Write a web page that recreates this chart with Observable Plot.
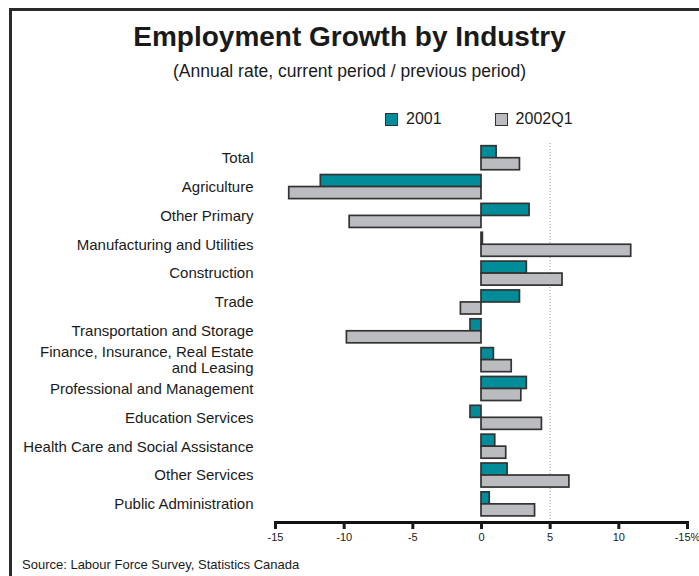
<!DOCTYPE html>
<html>
<head>
<meta charset="utf-8">
<script src="https://cdn.jsdelivr.net/npm/d3@7"></script>
<script src="https://cdn.jsdelivr.net/npm/@observablehq/plot@0.6"></script>
<style>
  html, body { margin: 0; padding: 0; background: #fff; }
  #wrap { position: relative; width: 699px; height: 576px; overflow: hidden; font-family: "Liberation Sans", Arial, sans-serif; color: #1a1a1a; background: #fff; }
  #frame { position: absolute; left: 9px; top: 8px; width: 720px; height: 600px; border-left: 3px solid #2a2a2a; border-top: 3px solid #2a2a2a; }
  #title { position: absolute; left: 0; width: 699px; top: 21px; text-align: center; font-weight: bold; font-size: 28px; }
  #subtitle { position: absolute; left: 0; width: 699px; top: 61px; text-align: center; font-size: 17.5px; }
  #legend { position: absolute; top: 110px; left: 385px; font-size: 16px; display: flex; align-items: center; }
  .sw { display: inline-block; width: 11px; height: 11px; border: 1px solid #333; margin-right: 8px; }
  .item { display: flex; align-items: center; margin-right: 53px; }
  #chart { position: absolute; left: 0; top: 135px; }
  #source { position: absolute; left: 22px; top: 557px; font-size: 13px; }
</style>
</head>
<body>
<div id="wrap">
  <div id="frame"></div>
  <div id="title">Employment Growth by Industry</div>
  <div id="subtitle">(Annual rate, current period / previous period)</div>
  <div id="legend"></div>
  <div id="chart"></div>
  <div id="source">Source: Labour Force Survey, Statistics Canada</div>
</div>
<script>
const categories = [
  "Total",
  "Agriculture",
  "Other Primary",
  "Manufacturing and Utilities",
  "Construction",
  "Trade",
  "Transportation and Storage",
  "Finance, Insurance, Real Estate\nand Leasing",
  "Professional and Management",
  "Education Services",
  "Health Care and Social Assistance",
  "Other Services",
  "Public Administration"
];
const series = ["2001", "2002Q1"];
const values2001   = [1.1, -11.7, 3.5, 0.1, 3.3, 2.8, -0.8, 0.9, 3.3, -0.8, 1.0, 1.9, 0.6];
const values2002Q1 = [2.8, -14.0, -9.6, 10.9, 5.9, -1.5, -9.8, 2.2, 2.9, 4.4, 1.8, 6.4, 3.9];
const tickValues = [-15, -10, -5, 0, 5, 10, 15];
const tickLabels = ["-15", "-10", "-5", "0", "5", "10", "-15%"];
const colors = ["#008C99", "#BBBCC0"];

const d2001 = categories.map((c, i) => ({category: c, value: values2001[i]}));
const d2002 = categories.map((c, i) => ({category: c, value: values2002Q1[i]}));

// legend
const legend = document.getElementById("legend");
series.forEach((s, i) => {
  const it = document.createElement("div");
  it.className = "item";
  it.innerHTML = `<span class="sw" style="background:${colors[i]}"></span><span>${s}</span>`;
  legend.appendChild(it);
});

const chart = Plot.plot({
  width: 699,
  height: 415,
  marginTop: 8,
  marginBottom: 28,
  marginLeft: 275,
  marginRight: 12,
  style: {fontFamily: "'Liberation Sans', Arial, sans-serif", color: "#1a1a1a", background: "transparent"},
  x: {domain: [-15, 15]},
  y: {domain: categories, padding: 0, insetBottom: 4, round: false},
  marks: [
    Plot.ruleX([5], {stroke: "#9a9a9a", strokeDasharray: "1,2", strokeWidth: 1}),
    Plot.barX(d2001, {x: "value", y: "category", fill: colors[0], stroke: "#333", strokeWidth: 1.7, insetTop: 2.7, insetBottom: 14.1}),
    Plot.barX(d2002, {x: "value", y: "category", fill: colors[1], stroke: "#333", strokeWidth: 1.7, insetTop: 14.7, insetBottom: 2.1}),
    Plot.frame({anchor: "bottom", stroke: "#111", strokeWidth: 3}),
    Plot.axisX({ticks: tickValues, tickFormat: (d) => tickLabels[tickValues.indexOf(d)], tickSize: 7, strokeWidth: 3, tickPadding: 4, fontSize: 11, label: null}),
    Plot.axisY({tickSize: 0, tickPadding: 22, fontSize: 15, lineHeight: 1.07, label: null})
  ]
});
document.getElementById("chart").appendChild(chart);
</script>
</body>
</html>
